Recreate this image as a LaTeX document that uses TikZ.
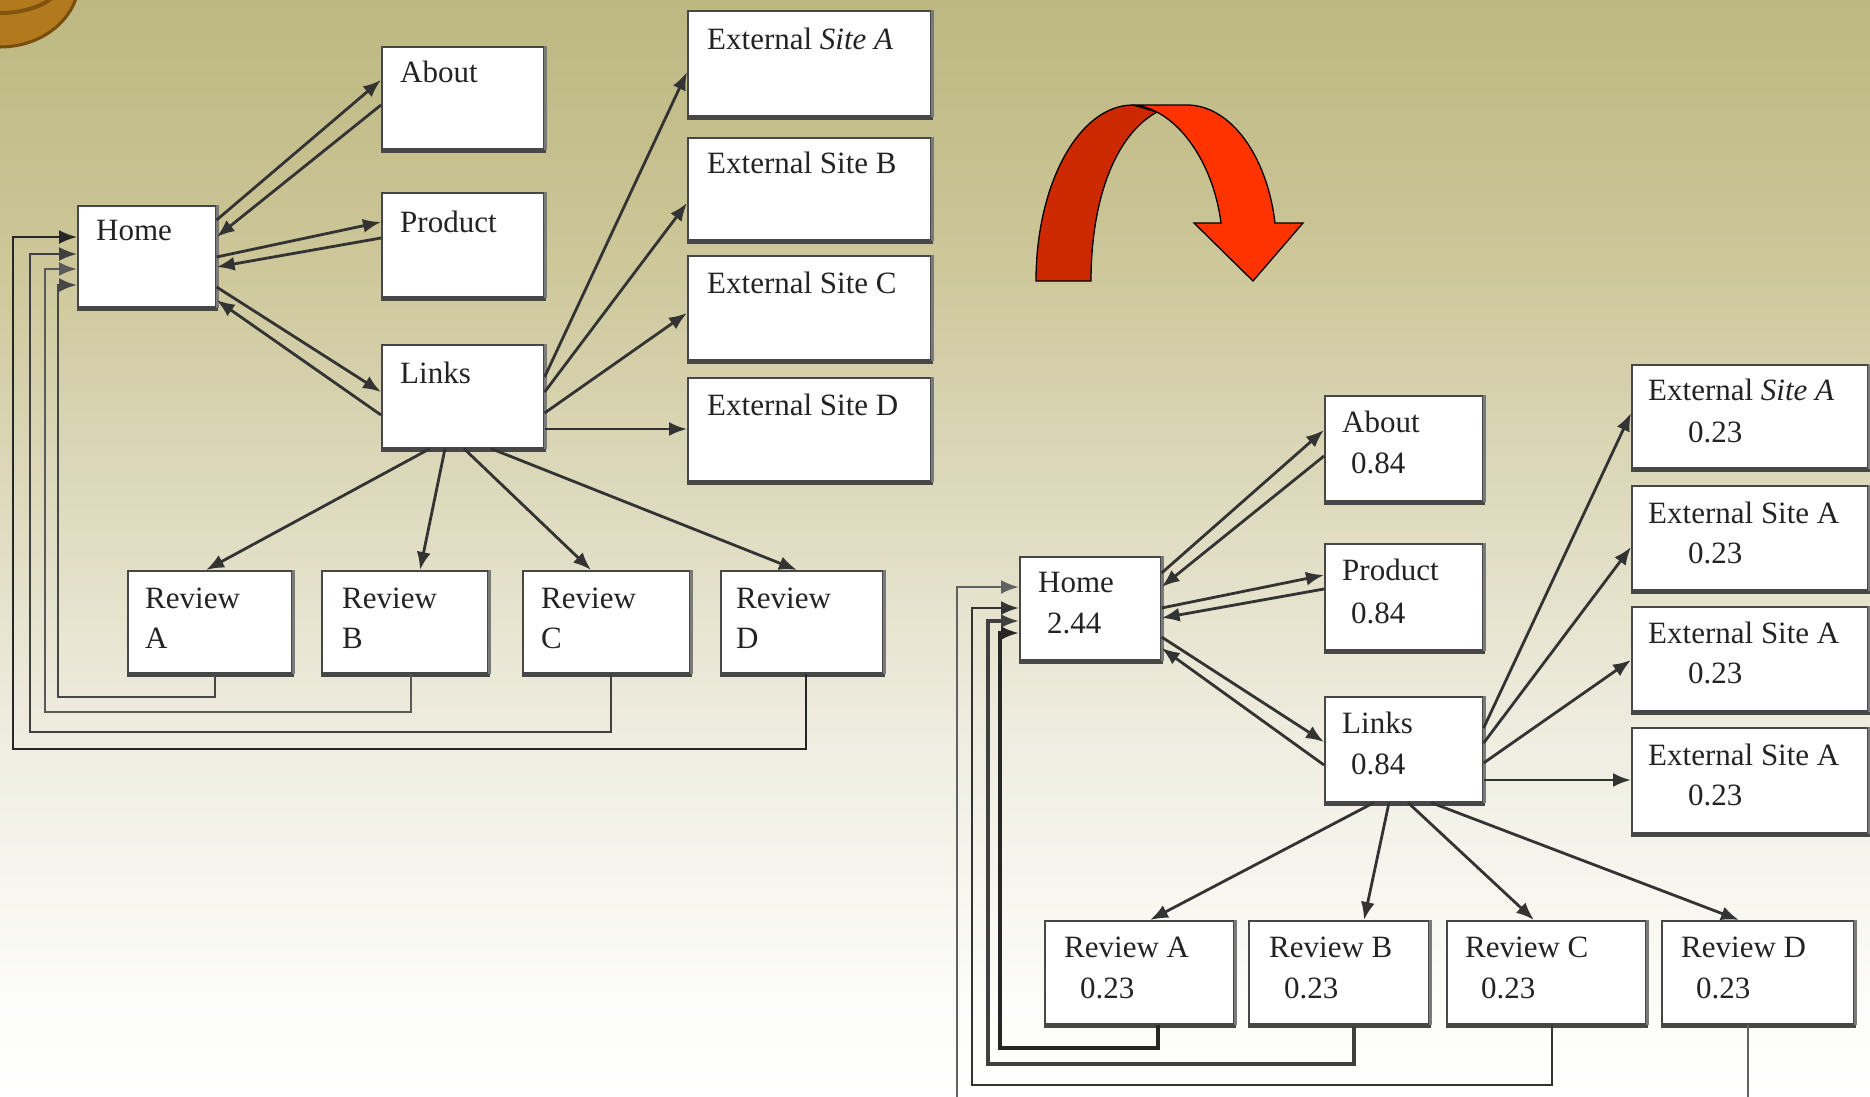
\documentclass[tikz,border=0pt]{standalone}
\usepackage{fontspec}
\setmainfont{Liberation Serif}
\usetikzlibrary{arrows.meta}

% background bands (top to bottom)
\definecolor{bgA}{RGB}{189,183,129}
\definecolor{bgB}{RGB}{204,198,152}
\definecolor{bgC}{RGB}{222,218,190}
\definecolor{bgD}{RGB}{240,238,226}
\definecolor{bgE}{RGB}{252,252,249}
\definecolor{bgF}{RGB}{255,255,255}
% ornament and turn-over arrow
\definecolor{gold}{RGB}{178,122,28}
\definecolor{goldrim}{RGB}{120,76,12}
\definecolor{turnback}{RGB}{204,41,0}
\definecolor{turnfront}{RGB}{255,51,0}
\definecolor{ink}{RGB}{35,35,35}

\tikzset{
  pagebox/.style={draw=black!72, line width=1.6pt, fill=white, inner sep=0pt, anchor=north west},
  plabel/.style={anchor=base west, inner sep=0pt, text=ink, font=\fontsize{31pt}{37pt}\selectfont},
  link/.style={draw=black!80, line width=2.8pt, -{Latex[length=18pt,width=14pt]}},
  backlink/.style={draw=black!72, line width=2.8pt, -{Latex[length=18pt,width=14pt]}},
  shadowbottom/.style={draw=black!72, line width=3.8pt},
  shadowright/.style={draw=black!52, line width=2.4pt},
}

\newcommand\pbox[5]{%
  \node[pagebox, minimum width=#4pt, minimum height=#5pt] (#1) at (#2,#3) {};%
  \draw[shadowbottom] ([yshift=-1.5pt]#1.south west) -- ([xshift=1pt,yshift=-1.5pt]#1.south east);%
  \draw[shadowright] ([xshift=1pt]#1.north east) -- ([xshift=1pt]#1.south east);}
\newcommand\ptext[5]{\node[plabel] (#1) at ([xshift=#3pt,yshift=-#4pt]#2.north west) {#5};}

\begin{document}
\begin{tikzpicture}[x=1pt,y=-1pt]
\useasboundingbox (0,0) rectangle (1870,1096);
\clip (0,0) rectangle (1870,1096);

% ---------- background ----------
\shade[top color=bgA, bottom color=bgB] (0,0) rectangle (1870,251);
\shade[top color=bgB, bottom color=bgC] (0,250) rectangle (1870,501);
\shade[top color=bgC, bottom color=bgD] (0,500) rectangle (1870,751);
\shade[top color=bgD, bottom color=bgE] (0,750) rectangle (1870,1001);
\shade[top color=bgE, bottom color=bgF] (0,1000) rectangle (1870,1096);

% ---------- corner ornament ----------
\fill[gold] (0,-20) ellipse [x radius=80, y radius=68];
\draw[goldrim, line width=3pt] (0,-20) ellipse [x radius=79, y radius=67];
\draw[goldrim!85!gold, line width=4pt] (0,-20) ellipse [x radius=62, y radius=33];

% ---------- turn-over arrow ----------
\filldraw[fill=turnback, draw=black, line width=1.3pt]
  (1036,281) .. controls (1036,184) and (1079,105) .. (1133,105)
  -- (1157,112)
  .. controls (1115,135) and (1091,200) .. (1091,281) -- cycle;
\filldraw[fill=turnfront, draw=black, line width=1.3pt]
  (1133,105) -- (1187,105)
  .. controls (1230,105) and (1267,155) .. (1275,223)
  -- (1303,223) -- (1253,281) -- (1194,223) -- (1221,223)
  .. controls (1213,160) and (1175,108) .. (1133,105) -- cycle;

% ================= left site graph =================
\pbox{lhome}{77}{205}{138}{101}
\pbox{labout}{381}{46}{162}{102}
\pbox{lprod}{381}{192}{162}{104}
\pbox{llinks}{381}{344}{162}{103}
\pbox{lextA}{687}{10}{243}{105}
\pbox{lextB}{687}{137}{243}{102}
\pbox{lextC}{687}{255}{243}{104}
\pbox{lextD}{687}{377}{243}{103}
\pbox{lrevA}{127}{570}{164}{102}
\pbox{lrevB}{321}{570}{166}{102}
\pbox{lrevC}{522}{570}{167}{102}
\pbox{lrevD}{720}{570}{162}{102}

\ptext{lhomeT}{lhome}{19}{35}{Home}
\ptext{laboutT}{labout}{19}{36}{About}
\ptext{lprodT}{lprod}{19}{40}{Product}
\ptext{llinksT}{llinks}{19}{39}{Links}
\ptext{lextAT}{lextA}{20}{39}{External \textit{Site A}}
\ptext{lextBT}{lextB}{20}{36}{External Site B}
\ptext{lextCT}{lextC}{20}{38}{External Site C}
\ptext{lextDT}{lextD}{20}{38}{External Site D}
\ptext{lrevAT}{lrevA}{18}{38}{Review}
\ptext{lrevAL}{lrevA}{18}{78}{A}
\ptext{lrevBT}{lrevB}{21}{38}{Review}
\ptext{lrevBL}{lrevB}{21}{78}{B}
\ptext{lrevCT}{lrevC}{19}{38}{Review}
\ptext{lrevCL}{lrevC}{19}{78}{C}
\ptext{lrevDT}{lrevD}{16}{38}{Review}
\ptext{lrevDL}{lrevD}{16}{78}{D}

% home <-> first level
\draw[link] ([yshift=-15pt]lhome.north east) -- ([yshift=-34pt]labout.north west);
\draw[link] ([yshift=-59pt]labout.north west) -- ([yshift=-32pt]lhome.north east);
\draw[link] ([yshift=-52pt]lhome.north east) -- ([yshift=-30pt]lprod.north west);
\draw[link] ([yshift=-46pt]lprod.north west) -- ([yshift=-62pt]lhome.north east);
\draw[link] ([yshift=-82pt]lhome.north east) -- ([yshift=-48pt]llinks.north west);
\draw[link] ([yshift=-71pt]llinks.north west) -- ([yshift=-95pt]lhome.north east);
% links -> external sites
\draw[link] ([yshift=-33pt]llinks.north east) -- ([yshift=-62pt]lextA.north west);
\draw[link] ([yshift=-48pt]llinks.north east) -- ([yshift=-66pt]lextB.north west);
\draw[link] ([yshift=-69pt]llinks.north east) -- ([yshift=-58pt]lextC.north west);
\draw[link] ([yshift=-85pt]llinks.north east) -- ([yshift=-52pt]lextD.north west);
% links -> reviews
\draw[link] ([xshift=49pt]llinks.south west) -- ([xshift=79pt]lrevA.north west);
\draw[link] ([xshift=64pt]llinks.south west) -- ([xshift=99pt]lrevB.north west);
\draw[link] ([xshift=83pt]llinks.south west) -- ([xshift=69pt]lrevC.north west);
\draw[link] ([xshift=110pt]llinks.south west) -- ([xshift=77pt]lrevD.north west);
% reviews back to home
\coordinate (lbendA) at (58,697);
\coordinate (lbendB) at (45,712);
\coordinate (lbendC) at (30,732);
\coordinate (lbendD) at (13,749);
\draw[backlink] ([xshift=88pt]lrevA.south west) |- (lbendA) |- ([yshift=-80pt]lhome.north west);
\draw[backlink, draw=black!65] ([xshift=90pt]lrevB.south west) |- (lbendB) |- ([yshift=-64pt]lhome.north west);
\draw[link, draw=black!75, line width=2.2pt] ([xshift=89pt]lrevC.south west) |- (lbendC) |- ([yshift=-49pt]lhome.north west);
\draw[link, draw=black!85, line width=2.2pt] ([xshift=86pt]lrevD.south west) |- (lbendD) |- ([yshift=-32pt]lhome.north west);

% ================= right site graph =================
\pbox{rhome}{1019}{556}{141}{103}
\pbox{rabout}{1324}{395}{158}{105}
\pbox{rprod}{1324}{543}{158}{106}
\pbox{rlinks}{1324}{696}{158}{105}
\pbox{rextA}{1631}{364}{236}{103}
\pbox{rextB}{1631}{485}{236}{104}
\pbox{rextC}{1631}{606}{236}{104}
\pbox{rextD}{1631}{727}{236}{105}
\pbox{rrevA}{1044}{920}{189}{103}
\pbox{rrevB}{1248}{920}{180}{103}
\pbox{rrevC}{1446}{920}{199}{103}
\pbox{rrevD}{1661}{920}{192}{103}

\ptext{rhomeT}{rhome}{19}{36}{Home}
\ptext{rhomeV}{rhome}{28}{77}{2.44}
\ptext{raboutT}{rabout}{18}{37}{About}
\ptext{raboutV}{rabout}{27}{78}{0.84}
\ptext{rprodT}{rprod}{18}{37}{Product}
\ptext{rprodV}{rprod}{27}{80}{0.84}
\ptext{rlinksT}{rlinks}{18}{37}{Links}
\ptext{rlinksV}{rlinks}{27}{78}{0.84}
\ptext{rextAT}{rextA}{17}{36}{External \textit{Site A}}
\ptext{rextAV}{rextA}{57}{78}{0.23}
\ptext{rextBT}{rextB}{17}{38}{External Site A}
\ptext{rextBV}{rextB}{57}{78}{0.23}
\ptext{rextCT}{rextC}{17}{37}{External Site A}
\ptext{rextCV}{rextC}{57}{77}{0.23}
\ptext{rextDT}{rextD}{17}{38}{External Site A}
\ptext{rextDV}{rextD}{57}{78}{0.23}
\ptext{rrevAT}{rrevA}{20}{37}{Review A}
\ptext{rrevAV}{rrevA}{36}{78}{0.23}
\ptext{rrevBT}{rrevB}{21}{37}{Review B}
\ptext{rrevBV}{rrevB}{36}{78}{0.23}
\ptext{rrevCT}{rrevC}{19}{37}{Review C}
\ptext{rrevCV}{rrevC}{35}{78}{0.23}
\ptext{rrevDT}{rrevD}{20}{37}{Review D}
\ptext{rrevDV}{rrevD}{35}{78}{0.23}

% home <-> first level
\draw[link] ([yshift=-17pt]rhome.north east) -- ([yshift=-35pt]rabout.north west);
\draw[link] ([yshift=-61pt]rabout.north west) -- ([yshift=-31pt]rhome.north east);
\draw[link] ([yshift=-52pt]rhome.north east) -- ([yshift=-32pt]rprod.north west);
\draw[link] ([yshift=-46pt]rprod.north west) -- ([yshift=-62pt]rhome.north east);
\draw[link] ([yshift=-81pt]rhome.north east) -- ([yshift=-46pt]rlinks.north west);
\draw[link] ([yshift=-69pt]rlinks.north west) -- ([yshift=-92pt]rhome.north east);
% links -> external sites
\draw[link] ([yshift=-32pt]rlinks.north east) -- ([yshift=-49pt]rextA.north west);
\draw[link] ([yshift=-47pt]rlinks.north east) -- ([yshift=-62pt]rextB.north west);
\draw[link] ([yshift=-67pt]rlinks.north east) -- ([yshift=-54pt]rextC.north west);
\draw[link] ([yshift=-84pt]rlinks.north east) -- ([yshift=-53pt]rextD.north west);
% links -> reviews
\draw[link] ([xshift=50pt]rlinks.south west) -- ([xshift=106pt]rrevA.north west);
\draw[link] ([xshift=65pt]rlinks.south west) -- ([xshift=116pt]rrevB.north west);
\draw[link] ([xshift=84pt]rlinks.south west) -- ([xshift=88pt]rrevC.north west);
\draw[link] ([xshift=107pt]rlinks.south west) -- ([xshift=78pt]rrevD.north west);
% reviews back to home
\coordinate (rbendA) at (1000,1048);
\coordinate (rbendB) at (988,1064);
\coordinate (rbendC) at (972,1085);
\coordinate (rbendD) at (957,1115);
\draw[backlink, draw=black!85, line width=3.4pt] ([xshift=114pt]rrevA.south west) |- (rbendA) |- ([yshift=-77pt]rhome.north west);
\draw[backlink, draw=black!75, line width=3.2pt] ([xshift=106pt]rrevB.south west) |- (rbendB) |- ([yshift=-65pt]rhome.north west);
\draw[backlink, draw=black!80] ([xshift=106pt]rrevC.south west) |- (rbendC) |- ([yshift=-52pt]rhome.north west);
\draw[backlink, draw=black!62] ([xshift=87pt]rrevD.south west) |- (rbendD) |- ([yshift=-31pt]rhome.north west);
\end{tikzpicture}
\end{document}
